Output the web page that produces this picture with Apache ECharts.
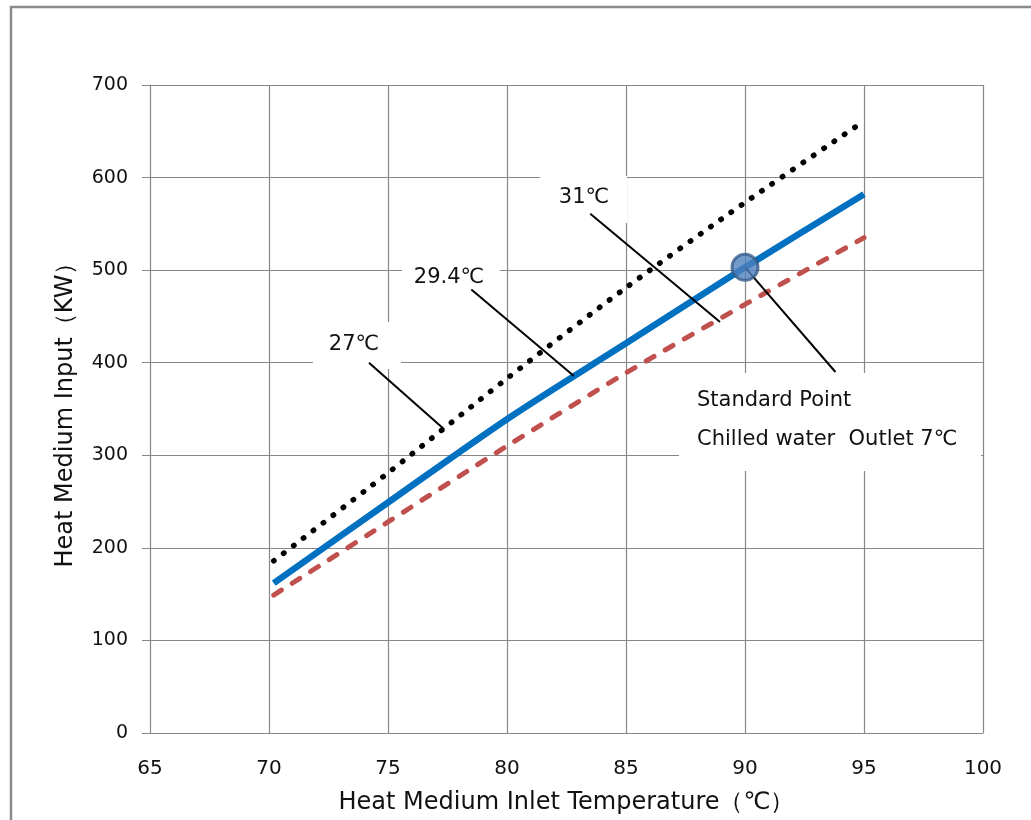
<!DOCTYPE html>
<html>
<head>
<meta charset="utf-8">
<script src="https://cdn.jsdelivr.net/npm/echarts@6/dist/echarts.min.js"></script>
<style>
  html, body { margin: 0; padding: 0; background: #fff; }
  #main { width: 1031px; height: 820px; }
</style>
</head>
<body>
<div id="main"></div>
<script>
'use strict'
// inlet temperature (℃) sample points
var temps = [70.2, 75, 80, 85, 90, 95];
// heat medium input (kW) for each cooling water temperature
var input27 = [186, 281, 383, 481, 573, 661];
var input294 = [162, 249, 339, 421, 503, 582];
var input31 = [149, 228, 310, 389, 463, 535];
var standardPoint = [90, 503];

// leader lines: [label end, curve end] in data coords
var leader27 = [[74.2, 400], [77.36, 328]];
var leader294 = [[78.5, 479], [82.8, 386]];
var leader31 = [[83.5, 561], [88.95, 444]];
var leaderStd = [[90, 503], [93.8, 390]];

var fontFamily = 'DejaVu Sans';
var gridColor = '#878787';

function pairs(xs, ys) {
    return xs.map(function (x, i) { return [x, ys[i]]; });
}

function leader(seg) {
    return [{ coord: seg[0] }, { coord: seg[1] }];
}

function box(x, y, w, h) {
    return {
        type: 'rect', z: 1,
        shape: { x: x, y: y, width: w, height: h },
        style: { fill: '#fff' }
    };
}

function label(text, x, y, align) {
    return {
        type: 'text', z: 2,
        x: x, y: y,
        style: {
            text: text, fill: '#111', font: '21px ' + fontFamily,
            textAlign: align || 'center', textVerticalAlign: 'middle'
        }
    };
}

var chart = echarts.init(document.getElementById('main'));

var option = {
    backgroundColor: '#fff',
    animation: false,
    grid: {
        left: 150,
        top: 85,
        width: 833,
        height: 648
    },
    xAxis: {
        type: 'value',
        min: 65,
        max: 100,
        interval: 5,
        name: 'Heat Medium Inlet Temperature（℃）',
        nameLocation: 'middle',
        nameGap: 58,
        nameTextStyle: { color: '#111', fontSize: 24, fontFamily: fontFamily },
        axisLine: { lineStyle: { color: gridColor, width: 1 } },
        axisTick: { show: false },
        axisLabel: { color: '#111', fontSize: 20, fontFamily: fontFamily, margin: 26 },
        splitLine: { show: true, lineStyle: { color: gridColor, width: 1.2 } }
    },
    yAxis: {
        type: 'value',
        min: 0,
        max: 700,
        interval: 100,
        name: 'Heat Medium Input（KW）',
        nameLocation: 'middle',
        nameGap: 72,
        nameTextStyle: { color: '#111', fontSize: 24, fontFamily: fontFamily },
        axisLine: { show: true, lineStyle: { color: gridColor, width: 1 } },
        axisTick: { show: true, length: 8, lineStyle: { color: gridColor } },
        axisLabel: { color: '#111', fontSize: 19, fontFamily: fontFamily, margin: 22 },
        splitLine: { show: true, lineStyle: { color: gridColor, width: 1.2 } }
    },
    graphic: [
        {
            type: 'rect', z: 0,
            shape: { x: 11, y: 7, width: 1100, height: 900 },
            style: { fill: 'none', stroke: '#8a8a8a', lineWidth: 2.5 }
        },
        box(313, 322, 88, 47),
        label('27℃', 354, 345),
        box(402, 252, 98, 46),
        label('29.4℃', 449, 278),
        box(540, 176, 87, 47),
        label('31℃', 584, 198),
        box(679, 373, 302, 98),
        label('Standard Point', 697, 401, 'left'),
        label('Chilled water  Outlet 7℃', 697, 440, 'left')
    ],
    series: [
        {
            name: '27℃',
            type: 'line',
            data: pairs(temps, input27),
            showSymbol: false,
            smooth: 0.3,
            lineStyle: { color: '#000', width: 5.5, type: [0.5, 12], cap: 'round' },
            z: 3
        },
        {
            name: '29.4℃',
            type: 'line',
            data: pairs(temps, input294),
            showSymbol: false,
            smooth: 0.3,
            lineStyle: { color: '#0070c0', width: 6.5 },
            z: 3,
            markLine: {
                silent: true,
                symbol: 'none',
                label: { show: false },
                lineStyle: { color: '#000', width: 2, type: 'solid' },
                data: [leader(leader27), leader(leader294), leader(leader31), leader(leaderStd)]
            }
        },
        {
            name: '31℃',
            type: 'line',
            data: pairs(temps, input31),
            showSymbol: false,
            smooth: 0.3,
            lineStyle: { color: '#c0504d', width: 5, type: [9, 13], cap: 'round' },
            z: 3
        },
        {
            name: 'Standard Point',
            type: 'scatter',
            data: [standardPoint],
            symbolSize: 26,
            itemStyle: { color: '#4f81bd', borderColor: '#385d8a', borderWidth: 3 },
            z: 5
        }
    ]
};

chart.setOption(option);
</script>
</body>
</html>
